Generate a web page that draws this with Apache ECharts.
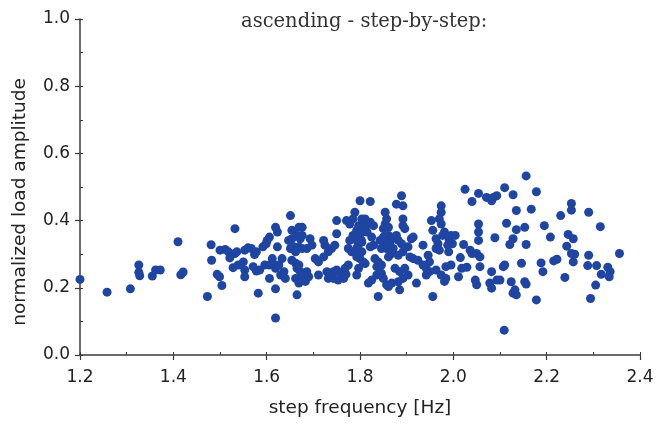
<!DOCTYPE html>
<html>
<head>
<meta charset="utf-8">
<script src="https://cdn.jsdelivr.net/npm/echarts@6/dist/echarts.min.js"></script>
<style>html,body{margin:0;padding:0;background:#fff}#c{width:665px;height:423px}</style>
</head>
<body>
<div id="c"></div>
<script>
const titleText = 'ascending - step-by-step:';
const xName = 'step frequency [Hz]';
const yName = 'normalized load amplitude';
const xTicks = [1.2, 1.4, 1.6, 1.8, 2.0, 2.2, 2.4];
const yTicks = [0.0, 0.2, 0.4, 0.6, 0.8, 1.0];

const band1 = [[1.200,0.225],[1.258,0.187],[1.308,0.197],[1.326,0.268],[1.326,0.246],[1.328,0.236],[1.355,0.235],[1.362,0.253],[1.372,0.253],[1.410,0.337],[1.416,0.239],[1.421,0.247],[1.473,0.174],[1.481,0.328],[1.482,0.282],[1.494,0.240],[1.499,0.233]];
const band2 = [[1.504,0.207],[1.500,0.312],[1.511,0.314],[1.518,0.307],[1.521,0.289],[1.532,0.302],[1.536,0.307],[1.532,0.376],[1.528,0.260],[1.539,0.268],[1.550,0.277],[1.553,0.312],[1.560,0.319],[1.567,0.317],[1.553,0.253],[1.553,0.233],[1.574,0.299],[1.578,0.307],[1.571,0.263],[1.578,0.250],[1.585,0.253],[1.582,0.184],[1.592,0.322],[1.599,0.331],[1.606,0.351],[1.596,0.268],[1.606,0.268],[1.613,0.273],[1.606,0.228],[1.619,0.110],[1.619,0.380],[1.623,0.366],[1.601,0.341],[1.623,0.322],[1.612,0.287],[1.619,0.258],[1.626,0.268],[1.633,0.287],[1.619,0.197],[1.630,0.238],[1.637,0.248],[1.640,0.228],[1.647,0.341]];
const band3 = [[1.651,0.415],[1.654,0.346],[1.665,0.356],[1.654,0.371],[1.669,0.380],[1.676,0.380],[1.651,0.317],[1.658,0.322],[1.662,0.307],[1.669,0.322],[1.676,0.317],[1.686,0.317],[1.672,0.346],[1.676,0.356],[1.654,0.282],[1.662,0.273],[1.669,0.268],[1.665,0.258],[1.672,0.248],[1.676,0.233],[1.662,0.228],[1.669,0.214],[1.683,0.219],[1.665,0.179],[1.686,0.248],[1.690,0.233],[1.693,0.346],[1.697,0.327],[1.711,0.238],[1.704,0.287],[1.711,0.277],[1.722,0.292],[1.722,0.341],[1.725,0.327],[1.732,0.307],[1.739,0.317],[1.746,0.327],[1.750,0.400],[1.750,0.361],[1.729,0.248],[1.736,0.238],[1.743,0.248],[1.750,0.253],[1.732,0.228],[1.743,0.228],[1.753,0.223],[1.761,0.238],[1.757,0.245],[1.765,0.228],[1.770,0.240],[1.768,0.258],[1.775,0.268],[1.771,0.400],[1.778,0.390],[1.785,0.405],[1.789,0.425],[1.785,0.356],[1.778,0.341],[1.775,0.317],[1.782,0.307],[1.793,0.371],[1.793,0.238],[1.796,0.327],[1.800,0.287],[1.800,0.459]];
const band4 = [[1.803,0.341],[1.807,0.277],[1.822,0.457],[1.804,0.405],[1.811,0.405],[1.797,0.385],[1.808,0.380],[1.818,0.390],[1.801,0.361],[1.815,0.366],[1.793,0.341],[1.804,0.336],[1.793,0.317],[1.804,0.307],[1.793,0.292],[1.811,0.272],[1.797,0.258],[1.822,0.395],[1.829,0.385],[1.825,0.351],[1.829,0.327],[1.822,0.322],[1.818,0.214],[1.825,0.223],[1.836,0.238],[1.846,0.243],[1.850,0.228],[1.857,0.209],[1.839,0.174],[1.832,0.287],[1.839,0.277],[1.836,0.263],[1.846,0.268],[1.843,0.341],[1.850,0.351],[1.854,0.336],[1.846,0.317],[1.857,0.317],[1.854,0.425],[1.857,0.405],[1.854,0.390],[1.861,0.380],[1.850,0.376],[1.861,0.356],[1.868,0.346],[1.864,0.331],[1.871,0.317],[1.868,0.302],[1.861,0.292],[1.878,0.449],[1.889,0.474],[1.892,0.444],[1.878,0.356],[1.882,0.341],[1.889,0.331],[1.892,0.307],[1.882,0.297],[1.892,0.405],[1.892,0.385],[1.896,0.376],[1.875,0.258],[1.885,0.248],[1.896,0.258],[1.882,0.218],[1.868,0.214],[1.861,0.204],[1.885,0.194],[1.892,0.228]];
const band5 = [[1.903,0.238],[1.903,0.322],[1.910,0.346],[1.914,0.351],[1.907,0.292],[1.914,0.287],[1.921,0.214],[1.924,0.282],[1.935,0.268],[1.942,0.258],[1.949,0.248],[1.942,0.238],[1.935,0.327],[1.953,0.400],[1.956,0.371],[1.946,0.297],[1.949,0.277],[1.963,0.346],[1.967,0.331],[1.970,0.312],[1.963,0.317],[1.974,0.444],[1.974,0.425],[1.970,0.405],[1.974,0.390],[1.981,0.366],[1.977,0.356],[1.956,0.174],[1.963,0.253],[1.974,0.238],[1.981,0.219],[1.984,0.228],[1.988,0.327],[1.991,0.341],[1.995,0.356],[1.998,0.331],[1.984,0.263],[1.995,0.268],[1.990,0.307],[2.004,0.356],[2.025,0.493],[2.040,0.457],[2.054,0.481],[2.071,0.469],[2.082,0.459],[2.086,0.469],[2.093,0.474],[2.054,0.390],[2.054,0.366],[2.054,0.341],[2.089,0.349],[2.022,0.329],[2.036,0.312],[2.040,0.302],[2.050,0.302],[2.057,0.292],[2.015,0.290],[2.011,0.233],[2.018,0.258],[2.029,0.261],[2.057,0.263],[2.047,0.223],[2.050,0.209],[2.082,0.248],[2.078,0.214],[2.082,0.199],[2.093,0.223],[2.100,0.223]];
const band6 = [[2.107,0.263],[2.110,0.268],[2.110,0.498],[2.128,0.477],[2.156,0.533],[2.178,0.486],[2.167,0.434],[2.135,0.430],[2.114,0.392],[2.121,0.329],[2.128,0.346],[2.135,0.373],[2.153,0.380],[2.146,0.273],[2.156,0.329],[2.124,0.218],[2.132,0.194],[2.128,0.184],[2.135,0.179],[2.153,0.218],[2.156,0.211],[2.178,0.164],[2.109,0.074],[2.188,0.274],[2.192,0.248],[2.195,0.385],[2.208,0.351],[2.230,0.415],[2.215,0.280],[2.222,0.285],[2.239,0.231],[2.243,0.324],[2.246,0.359],[2.257,0.346],[2.253,0.451],[2.253,0.431],[2.253,0.302],[2.260,0.300],[2.257,0.277],[2.290,0.425],[2.315,0.382],[2.290,0.297],[2.288,0.266],[2.307,0.266],[2.317,0.240],[2.305,0.208],[2.294,0.168],[2.331,0.261],[2.336,0.248],[2.334,0.233],[2.356,0.302]];

const points = [].concat(band1, band2, band3, band4, band5, band6);

const chart = echarts.init(document.getElementById('c'), null, {renderer: 'canvas'});
const axisColor = '#3a3a3a';
const labelFont = {fontFamily: 'DejaVu Sans', fontSize: 17, color: '#222'};
const xMin = xTicks[0], xMax = xTicks[xTicks.length - 1];
const yMin = yTicks[0], yMax = yTicks[yTicks.length - 1];

chart.setOption({
  animation: false,
  backgroundColor: '#fff',
  title: {
    text: titleText,
    left: 236, top: 7,
    textStyle: {fontFamily: 'DejaVu Serif', fontSize: 19.5, fontWeight: 'normal', color: '#333'}
  },
  graphic: [{
    type: 'text',
    x: 20, y: 202,
    rotation: Math.PI / 2,
    style: {
      text: yName,
      fontFamily: 'DejaVu Sans', fontSize: 18.5, fill: '#222',
      align: 'center', verticalAlign: 'middle'
    }
  }],
  grid: {left: 80, right: 25, top: 19, bottom: 66, containLabel: false},
  xAxis: [{
    type: 'value', min: xMin, max: xMax, interval: 0.2,
    name: xName, nameLocation: 'middle', nameGap: 44,
    nameTextStyle: {fontFamily: 'DejaVu Sans', fontSize: 18.5, color: '#222'},
    axisLine: {show: true, lineStyle: {color: axisColor, width: 1.5}},
    axisTick: {show: true, inside: false, length: 5, lineStyle: {color: axisColor, width: 1.2}},
    axisLabel: Object.assign({margin: 14, formatter: v => v.toFixed(1)}, labelFont),
    splitLine: {show: false}
  }, {
    type: 'value', min: xMin, max: xMax, interval: 0.1, position: 'bottom',
    axisLine: {show: false},
    axisTick: {show: true, inside: true, length: 3, lineStyle: {color: axisColor, width: 1}},
    axisLabel: {show: false}, splitLine: {show: false}
  }],
  yAxis: [{
    type: 'value', min: yMin, max: yMax, interval: 0.2,
    axisLine: {show: true, lineStyle: {color: axisColor, width: 1.5}},
    axisTick: {show: true, inside: false, length: 5, lineStyle: {color: axisColor, width: 1.2}},
    axisLabel: Object.assign({margin: 10, formatter: v => v.toFixed(1)}, labelFont),
    splitLine: {show: false}
  }, {
    type: 'value', min: yMin, max: yMax, interval: 0.1, position: 'left',
    axisLine: {show: false},
    axisTick: {show: true, inside: true, length: 3, lineStyle: {color: axisColor, width: 1}},
    axisLabel: {show: false}, splitLine: {show: false}
  }],
  series: [{
    type: 'scatter',
    xAxisIndex: 0, yAxisIndex: 0,
    data: points,
    symbol: 'circle',
    symbolSize: 9,
    itemStyle: {color: '#1f45a3', opacity: 1}
  }]
});
</script>
</body>
</html>
